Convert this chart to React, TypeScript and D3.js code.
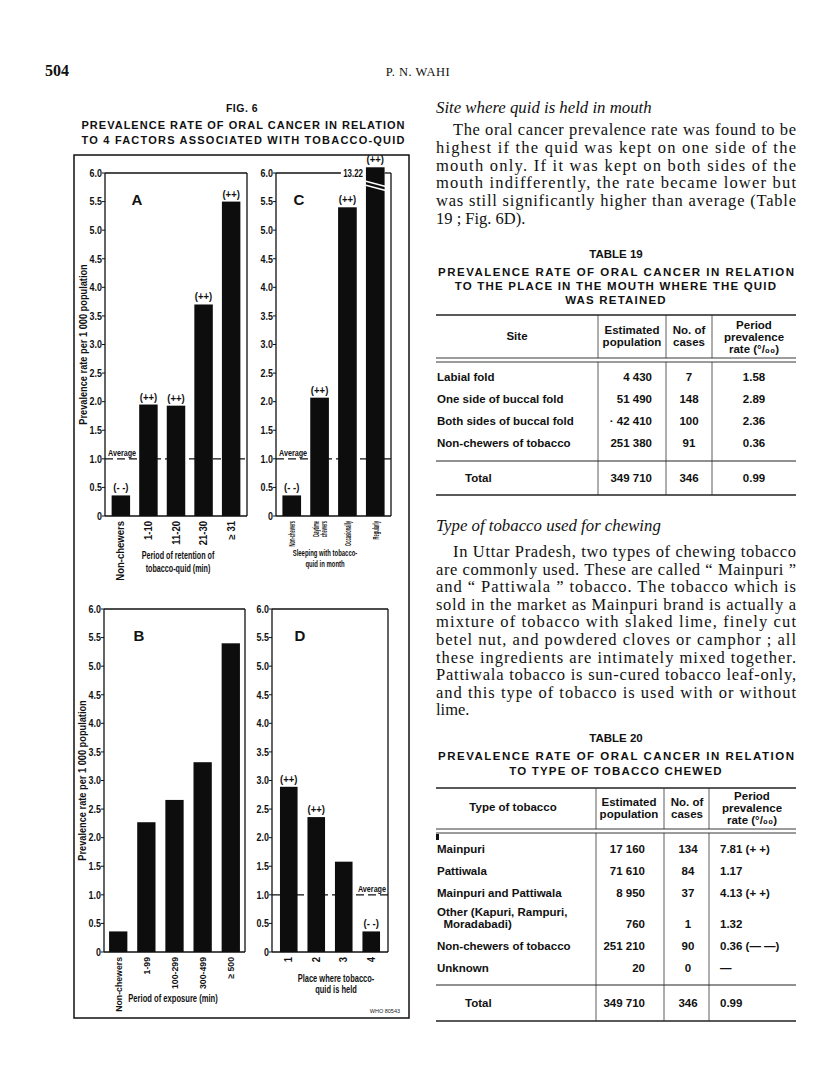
import React from "react";
import * as d3 from "d3";

// ---------------- DATA ----------------
const catsA = ["Non-chewers", "1-10", "11-20", "21-30", "≥ 31"];
const valsA = [0.36, 1.95, 1.93, 3.7, 5.5];
const sigA = ["(- -)", "(++)", "(++)", "(++)", "(++)"];

const catsC = ["Non-chewers", "Daytime|chewers", "Occasionally", "Regularly"];
const valsC = [0.36, 2.07, 5.4, 13.22];
const sigC = ["(- -)", "(++)", "(++)", "(++)"];

const catsB = ["Non-chewers", "1-99", "100-299", "300-499", "≥ 500"];
const valsB = [0.36, 2.27, 2.66, 3.32, 5.4];
const sigB = ["", "", "", "", ""];

const catsD = ["1", "2", "3", "4"];
const valsD = [2.89, 2.36, 1.58, 0.36];
const sigD = ["(++)", "(++)", "", "(- -)"];

const yTickVals = [0, 0.5, 1, 1.5, 2, 2.5, 3, 3.5, 4, 4.5, 5, 5.5, 6];
const yTickLabels = ["0", "0.5", "1.0", "1.5", "2.0", "2.5", "3.0", "3.5", "4.0", "4.5", "5.0", "5.5", "6.0"];
const averageRate = 1.0;

const sites19 = ["Labial fold", "One side of buccal fold", "Both sides of buccal fold", "Non-chewers of tobacco"];
const pop19 = ["4 430", "51 490", "· 42 410", "251 380"];
const cases19 = ["7", "148", "100", "91"];
const rate19 = ["1.58", "2.89", "2.36", "0.36"];
const total19 = ["349 710", "346", "0.99"];

const types20 = ["Mainpuri", "Pattiwala", "Mainpuri and Pattiwala", "Other (Kapuri, Rampuri,|  Moradabadi)", "Non-chewers of tobacco", "Unknown"];
const pop20 = ["17 160", "71 610", "8 950", "760", "251 210", "20"];
const cases20 = ["134", "84", "37", "1", "90", "0"];
const rate20 = ["7.81 (+ +)", "1.17", "4.13 (+ +)", "1.32", "0.36 (— —)", "—"];
const total20 = ["349 710", "346", "0.99"];

const para1 = [
  "The oral cancer prevalence rate was found to be",
  "highest if the quid was kept on one side of the",
  "mouth only. If it was kept on both sides of the",
  "mouth indifferently, the rate became lower but",
  "was still significantly higher than average (Table",
  "19 ; Fig. 6D).",
];
const para2 = [
  "In Uttar Pradesh, two types of chewing tobacco",
  "are commonly used. These are called “ Mainpuri ”",
  "and “ Pattiwala ” tobacco. The tobacco which is",
  "sold in the market as Mainpuri brand is actually a",
  "mixture of tobacco with slaked lime, finely cut",
  "betel nut, and powdered cloves or camphor ; all",
  "these ingredients are intimately mixed together.",
  "Pattiwala tobacco is sun-cured tobacco leaf-only,",
  "and this type of tobacco is used with or without",
  "lime.",
];

// ---------------- STYLE ----------------
const SF = "'Liberation Sans', Arial, Helvetica, sans-serif";
const TF = "'Liberation Serif', 'Times New Roman', Times, serif";

type CTProps = {
  x: number; y: number; rot?: number; sx?: number; size: number;
  anchor?: "start" | "middle" | "end"; dy?: string; children: React.ReactNode; fill?: string;
};
function CT({ x, y, rot = 0, sx = 1, size, anchor = "start", dy, children, fill = "#111" }: CTProps) {
  return (
    <text
      transform={`translate(${x},${y}) rotate(${rot}) scale(${sx},1)`}
      textAnchor={anchor} dy={dy} fontFamily={SF} fontWeight="bold" fontSize={size} fill={fill}
      style={{ whiteSpace: "pre" }}
    >
      {children}
    </text>
  );
}

type PanelProps = {
  cats: string[];
  vals: number[];
  sig: string[];
  x0: number; x1: number; yTop: number; yBase: number;
  pi: number; po: number;
  letter: string; letterDx: number;
  avg: "left" | "right" | null;
  title: string[];
  titleX: number; titleY: number; titleStep: number; titleSize: number; titleSx: number;
  catSize: number; catSx: number; catGap: number;
  yLabel: boolean;
};

function Panel(p: PanelProps) {
  const y = d3.scaleLinear().domain([0, 6]).range([p.yBase, p.yTop]);
  const x = d3.scaleBand<string>().domain(p.cats).range([p.x0, p.x1]).paddingInner(p.pi).paddingOuter(p.po);
  const bw = x.bandwidth();
  const breakTop = 6.1;
  const broken = p.vals.map((v) => v > 6);
  const brokenIdx = broken.indexOf(true);
  const topPieces: [number, number][] = [];
  if (brokenIdx >= 0) {
    const bx = x(p.cats[brokenIdx])!;
    topPieces.push([p.x0, bx - 25]);
    topPieces.push([bx + bw, p.x1]);
  } else topPieces.push([p.x0, p.x1]);
  const midY = (p.yTop + p.yBase) / 2;
  return (
    <g>
      {/* frame */}
      <line x1={p.x0} x2={p.x0} y1={p.yTop} y2={p.yBase} stroke="#111" strokeWidth={1.3} />
      <line x1={p.x1} x2={p.x1} y1={p.yTop} y2={p.yBase} stroke="#111" strokeWidth={1.3} />
      <line x1={p.x0} x2={p.x1} y1={p.yBase} y2={p.yBase} stroke="#111" strokeWidth={1.3} />
      {topPieces.map((t, i) => (
        <line key={i} x1={t[0]} x2={t[1]} y1={p.yTop} y2={p.yTop} stroke="#111" strokeWidth={1.3} />
      ))}
      {/* y ticks */}
      {yTickVals.map((v, i) => (
        <g key={i}>
          <line x1={p.x0 - 3} x2={p.x0} y1={y(v)} y2={y(v)} stroke="#111" strokeWidth={1} />
          <CT x={p.x0 - 3} y={y(v)} dy="0.36em" anchor="end" size={10.5} sx={0.85}>
            {yTickLabels[i]}
          </CT>
        </g>
      ))}
      {p.yLabel && (
        <CT x={p.x0 - 18} y={midY} rot={-90} anchor="middle" size={10.5} sx={0.88}>
          Prevalence rate per 1 000 population
        </CT>
      )}
      {/* average line */}
      {p.avg && (
        <line x1={p.x0} x2={p.x1} y1={y(averageRate)} y2={y(averageRate)} stroke="#111" strokeWidth={1.2} strokeDasharray="8,4" />
      )}
      {/* bars */}
      {p.cats.map((c, i) => {
        const top = y(Math.min(p.vals[i], breakTop));
        const bx = x(c)!;
        const lines = c.split("|");
        return (
          <g key={c}>
            <rect x={bx} y={top} width={bw} height={p.yBase - top} fill="#0d0d0d" />
            {p.sig[i] && (
              <CT x={bx + bw / 2} y={top - 4} anchor="middle" size={10} sx={0.95}>
                {p.sig[i]}
              </CT>
            )}
            {broken[i] && (
              <g>
                <CT x={bx - 3} y={p.yTop} dy="0.36em" anchor="end" size={11} sx={0.72}>
                  {p.vals[i].toFixed(2)}
                </CT>
                <line x1={bx - 1} x2={bx + bw + 3} y1={y(5.86)} y2={y(5.86) + 6} stroke="#fff" strokeWidth={1.3} />
                <line x1={bx - 1} x2={bx + bw + 3} y1={y(5.86) + 4} y2={y(5.86) + 10} stroke="#fff" strokeWidth={1.3} />
              </g>
            )}
            {lines.map((ln, k) => (
              <CT
                key={k}
                x={bx + bw / 2 + (k - (lines.length - 1) / 2) * p.catGap}
                y={p.yBase + 5}
                rot={-90} dy="0.36em" anchor="end" size={p.catSize} sx={p.catSx}
              >
                {ln}
              </CT>
            ))}
          </g>
        );
      })}
      {p.avg && (
        <CT
          x={p.avg === "left" ? p.x0 + 3 : p.x1 - 2}
          y={y(averageRate) - 3}
          anchor={p.avg === "left" ? "start" : "end"}
          size={9} sx={0.8}
        >
          Average
        </CT>
      )}
      <CT x={p.x0 + p.letterDx} y={p.yTop + 32} anchor="middle" size={15}>
        {p.letter}
      </CT>
      {p.title.map((t, i) => (
        <CT key={i} x={p.titleX} y={p.titleY + i * p.titleStep} anchor="middle" size={p.titleSize} sx={p.titleSx}>
          {t}
        </CT>
      ))}
    </g>
  );
}

function Justified({ lines, x0, x1, y0, step, indent }: { lines: string[]; x0: number; x1: number; y0: number; step: number; indent: number }) {
  return (
    <g fontFamily={TF} fontSize={16.5} fill="#111">
      {lines.map((l, i) => {
        const last = i === lines.length - 1;
        const sx = i === 0 ? x0 + indent : x0;
        return last ? (
          <text key={i} x={sx} y={y0 + i * step}>{l}</text>
        ) : (
          <text key={i} x={sx} y={y0 + i * step} textLength={x1 - sx} lengthAdjust="spacing">{l}</text>
        );
      })}
    </g>
  );
}

type TableProps = {
  x0: number; x1: number; seps: number[];
  top: number; dbl: number; ruleTotal: number; bottom: number;
  header: { lines: string[]; x: number; ys: number[] }[];
  rows: string[][]; rowYs: number[];
  total: string[]; totalY: number;
  popRight: number; caseCenter: number; rateX: number; rateAnchor: "middle" | "start";
};

function Table(t: TableProps) {
  const fs = 11.5;
  return (
    <g fontFamily={SF} fontWeight="bold" fontSize={fs} fill="#111">
      <line x1={t.x0} x2={t.x1} y1={t.top} y2={t.top} stroke="#222" strokeWidth={1.3} />
      <line x1={t.x0} x2={t.x1} y1={t.dbl} y2={t.dbl} stroke="#222" strokeWidth={0.9} />
      <line x1={t.x0} x2={t.x1} y1={t.dbl + 4} y2={t.dbl + 4} stroke="#222" strokeWidth={0.9} />
      <line x1={t.x0} x2={t.x1} y1={t.ruleTotal} y2={t.ruleTotal} stroke="#222" strokeWidth={1} />
      <line x1={t.x0} x2={t.x1} y1={t.bottom} y2={t.bottom} stroke="#222" strokeWidth={1.3} />
      {t.seps.map((s, i) => (
        <g key={i}>
          <line x1={s} x2={s} y1={t.top} y2={t.dbl} stroke="#333" strokeWidth={0.8} />
          <line x1={s} x2={s} y1={t.dbl + 4} y2={t.bottom} stroke="#333" strokeWidth={0.8} />
        </g>
      ))}
      {t.header.map((h, i) =>
        h.lines.map((l, k) => (
          <text key={i + "-" + k} x={h.x} y={h.ys[k]} textAnchor="middle">{l}</text>
        ))
      )}
      {t.rows.map((r, i) => {
        const labelLines = r[0].split("|");
        const yy = t.rowYs[i];
        const yLast = yy + (labelLines.length - 1) * 12;
        return (
          <g key={i}>
            {labelLines.map((l, k) => (
              <text key={k} x={t.x0 + 1} y={yy + k * 12} style={{ whiteSpace: "pre" }}>{l}</text>
            ))}
            <text x={t.popRight} y={yLast} textAnchor="end">{r[1]}</text>
            <text x={t.caseCenter} y={yLast} textAnchor="middle">{r[2]}</text>
            <text x={t.rateX} y={yLast} textAnchor={t.rateAnchor}>{r[3]}</text>
          </g>
        );
      })}
      <text x={t.x0 + 29} y={t.totalY}>Total</text>
      <text x={t.popRight} y={t.totalY} textAnchor="end">{t.total[0]}</text>
      <text x={t.caseCenter} y={t.totalY} textAnchor="middle">{t.total[1]}</text>
      <text x={t.rateX} y={t.totalY} textAnchor={t.rateAnchor}>{t.total[2]}</text>
    </g>
  );
}

export default function App() {
  const R0 = 436;
  const R1 = 796;
  const rc = (R0 + R1) / 2;
  const rows19 = sites19.map((s, i) => [s, pop19[i], cases19[i], rate19[i]]);
  const rows20 = types20.map((s, i) => [s, pop20[i], cases20[i], rate20[i]]);
  return (
    <svg width={816} height={1090} style={{ position: "absolute", left: 0, top: 0, background: "#fff" }}>
      <rect width={816} height={1090} fill="#fff" />
      {/* page header */}
      <text x={45} y={76} fontFamily={TF} fontWeight="bold" fontSize={16} fill="#111">504</text>
      <text x={418} y={76} textAnchor="middle" fontFamily={TF} fontSize={12.5} letterSpacing={0.5} fill="#111">P. N. WAHI</text>

      {/* figure title */}
      <g fontFamily={SF} fontWeight="bold" fill="#111" textAnchor="middle">
        <text x={242} y={112} fontSize={10.5} letterSpacing={0.5}>FIG. 6</text>
        <text x={243} y={129} fontSize={11} textLength={323} lengthAdjust="spacing">PREVALENCE RATE OF ORAL CANCER IN RELATION</text>
        <text x={243} y={144} fontSize={11} textLength={323} lengthAdjust="spacing">TO 4 FACTORS ASSOCIATED WITH TOBACCO-QUID</text>
      </g>

      {/* figure box */}
      <rect x={74} y={155} width={335} height={863} fill="none" stroke="#111" strokeWidth={1.5} />

      <Panel cats={catsA} vals={valsA} sig={sigA} x0={105} x1={247} yTop={173} yBase={516} pi={0.33} po={0.24}
        letter="A" letterDx={32} avg="left"
        title={["Period of retention of", "tobacco-quid (min)"]} titleX={178} titleY={559} titleStep={13} titleSize={10} titleSx={0.72}
        catSize={10} catSx={0.95} catGap={9} yLabel />
      <Panel cats={catsC} vals={valsC} sig={sigC} x0={276} x1={391} yTop={173} yBase={516} pi={0.33} po={0.23}
        letter="C" letterDx={23} avg="left"
        title={["Sleeping with tobacco-", "quid in month"]} titleX={325} titleY={556} titleStep={10.5} titleSize={9} titleSx={0.66}
        catSize={9} catSx={0.45} catGap={8} yLabel={false} />
      <Panel cats={catsB} vals={valsB} sig={sigB} x0={104} x1={245} yTop={609} yBase={952} pi={0.35} po={0.18}
        letter="B" letterDx={35} avg={null}
        title={["Period of exposure (min)"]} titleX={173} titleY={1002} titleStep={12} titleSize={10} titleSx={0.76}
        catSize={9.5} catSx={0.92} catGap={9} yLabel />
      <Panel cats={catsD} vals={valsD} sig={sigD} x0={272} x1={388} yTop={609} yBase={952} pi={0.36} po={0.29}
        letter="D" letterDx={28} avg="right"
        title={["Place where tobacco-", "quid is held"]} titleX={336} titleY={982} titleStep={11} titleSize={10} titleSx={0.75}
        catSize={10} catSx={0.95} catGap={9} yLabel={false} />
      <text x={400} y={1013} textAnchor="end" fontFamily={SF} fontSize={5.5} fill="#222">WHO 80543</text>

      {/* right column text */}
      <text x={R0} y={113} fontFamily={TF} fontStyle="italic" fontSize={16.8} fill="#111">Site where quid is held in mouth</text>
      <Justified lines={para1} x0={R0} x1={R1} y0={135} step={17.8} indent={17} />

      <g fontFamily={SF} fontWeight="bold" fill="#111" textAnchor="middle">
        <text x={rc} y={258} fontSize={11.5}>TABLE 19</text>
        <text x={rc} y={276} fontSize={11.5} textLength={356} lengthAdjust="spacing">PREVALENCE RATE OF ORAL CANCER IN RELATION</text>
        <text x={rc} y={290} fontSize={11.5} letterSpacing={1.2}>TO THE PLACE IN THE MOUTH WHERE THE QUID</text>
        <text x={rc} y={304} fontSize={11.5} letterSpacing={1.2}>WAS RETAINED</text>
      </g>
      <Table
        x0={R0} x1={R1} seps={[598, 666, 712]} top={315} dbl={358} ruleTotal={461} bottom={495}
        header={[
          { lines: ["Site"], x: 517, ys: [340] },
          { lines: ["Estimated", "population"], x: 632, ys: [334, 346] },
          { lines: ["No. of", "cases"], x: 689, ys: [334, 346] },
          { lines: ["Period", "prevalence", "rate (°/₀₀)"], x: 754, ys: [329, 341, 353] },
        ]}
        rows={rows19} rowYs={[381, 403, 425, 447]}
        total={total19} totalY={482}
        popRight={652} caseCenter={689} rateX={754} rateAnchor="middle"
      />

      <text x={R0} y={531} fontFamily={TF} fontStyle="italic" fontSize={16.8} fill="#111">Type of tobacco used for chewing</text>
      <Justified lines={para2} x0={R0} x1={R1} y0={557} step={17.6} indent={17} />

      <g fontFamily={SF} fontWeight="bold" fill="#111" textAnchor="middle">
        <text x={rc} y={742} fontSize={11.5}>TABLE 20</text>
        <text x={rc} y={760} fontSize={11.5} textLength={356} lengthAdjust="spacing">PREVALENCE RATE OF ORAL CANCER IN RELATION</text>
        <text x={rc} y={775} fontSize={11.5} letterSpacing={1.2}>TO TYPE OF TOBACCO CHEWED</text>
      </g>
      <Table
        x0={R0} x1={R1} seps={[596, 664, 709]} top={788} dbl={829} ruleTotal={985} bottom={1021}
        header={[
          { lines: ["Type of tobacco"], x: 513, ys: [811] },
          { lines: ["Estimated", "population"], x: 629, ys: [806, 818] },
          { lines: ["No. of", "cases"], x: 687, ys: [806, 818] },
          { lines: ["Period", "prevalence", "rate (°/₀₀)"], x: 752, ys: [800, 812, 824] },
        ]}
        rows={rows20} rowYs={[853, 875, 897, 916, 950, 972]}
        total={total20} totalY={1007}
        popRight={645} caseCenter={688} rateX={720} rateAnchor="start"
      />
      <rect x={R0} y={834} width={3} height={6} fill="#111" />
    </svg>
  );
}
